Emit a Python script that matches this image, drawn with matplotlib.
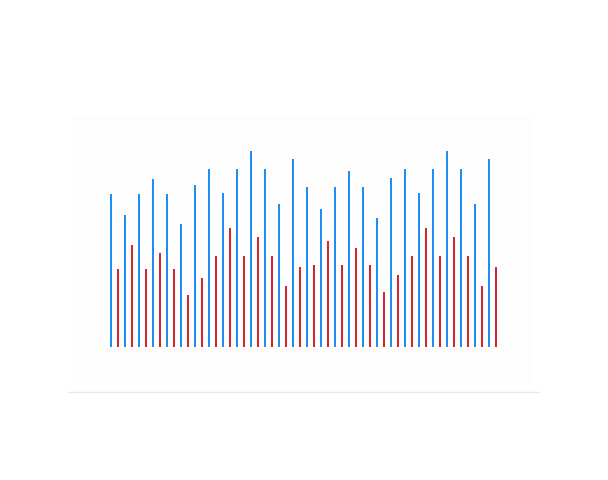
import numpy as np
import matplotlib
matplotlib.use("Agg")
import matplotlib.pyplot as plt
from matplotlib.patches import Rectangle
from matplotlib.lines import Line2D

# values (arbitrary units, no axis labels shown)
groups = np.arange(28)
blue_vals = [152.7, 132, 152.7, 168.3, 152.7, 122.7, 161.7, 177.7, 153.7, 177.7,
             196, 177.7, 142.7, 188, 159.7, 138.3, 159.7, 176, 159.7, 128.7,
             169, 177.7, 153.7, 177.7, 196, 177.7, 142.7, 188]
red_vals = [78, 101.7, 78, 94.3, 78, 52.3, 68.7, 91.3, 118.7, 91.3,
            110, 91.3, 61, 80, 82, 106.3, 82, 99, 82, 54.7,
            72, 91.3, 118.7, 91.3, 110, 91.3, 61, 80]

W, H = 608, 480
fig = plt.figure(figsize=(W / 100, H / 100), dpi=100)

# pale background panel (behind the axes)
fig.patches.append(Rectangle((71 / W, 1 - 383 / H), (532 - 71) / W, (383 - 117) / H,
                             transform=fig.transFigure, facecolor="#fdfdfd",
                             edgecolor="none", zorder=-1))
# thin bottom line
fig.lines.append(Line2D([68 / W, 539 / W], [1 - 392.3 / H, 1 - 392.3 / H],
                        transform=fig.transFigure, color="#e8e8e8", lw=1, zorder=-1))

ax = fig.add_axes([71 / W, 1 - 383 / H, (532 - 71) / W, (383 - 117) / H])
ax.patch.set_alpha(0)

bw = 0.15
ax.bar(groups - 0.25, blue_vals, width=bw, color="#1E8EF5")
ax.bar(groups + 0.25, red_vals, width=bw, color="#D2282C")

ax.set_xlim((71 - 114.5) / 14, (532 - 114.5) / 14)
ax.set_ylim(-36, 230)
ax.axis("off")

fig.savefig("out.png", dpi=100, facecolor="white")
